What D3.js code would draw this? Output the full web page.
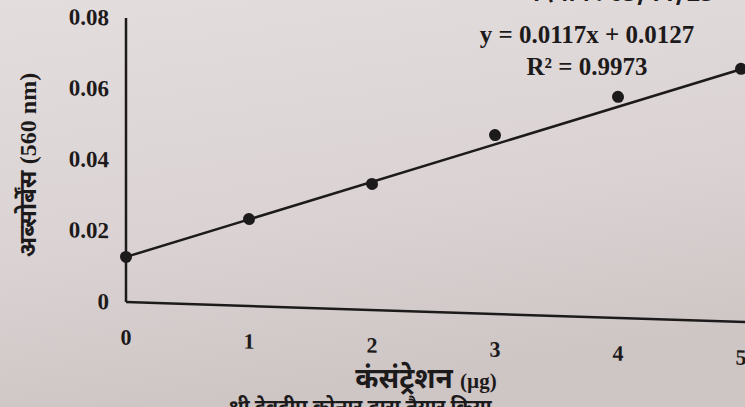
<!DOCTYPE html>
<html>
<head>
<meta charset="utf-8">
<script src="https://cdn.jsdelivr.net/npm/d3@7"></script>
<style>
  html, body { margin: 0; padding: 0; overflow: hidden; }
  body { width: 745px; height: 407px; }
  text { fill: #1d1a1b; }
  .num { font-family: "Liberation Serif", "Times New Roman", serif; font-weight: bold; }
  .hi { font-family: "Noto Sans Devanagari", "Lohit Devanagari", "Noto Serif Devanagari", sans-serif; font-weight: bold; }
</style>
</head>
<body>
<div id="chart"></div>
<script>
// standard curve readings
const concentration = [0, 1, 2, 3, 4, 5];
const absorbance = [0.0127, 0.0245, 0.0355, 0.0504, 0.0623, 0.0713];
const yTicks = [0, 0.02, 0.04, 0.06, 0.08];
const xTicks = [0, 1, 2, 3, 4, 5];
const fitSlope = 0.0117;
const fitIntercept = 0.0127;
const fitR2 = 0.9973;

const W = 745, H = 407;
const axisX = 126, baseY = 302, topY = 18;

let svg = d3.select('#chart').append('svg')
    .attr('width', W)
    .attr('height', H);

// paper background
let grad = svg.append('defs').append('linearGradient')
    .attr('id', 'paper')
    .attr('x1', 0).attr('y1', 0).attr('x2', 0.25).attr('y2', 1);
grad.append('stop').attr('offset', '0%').attr('stop-color', '#e3dddd');
grad.append('stop').attr('offset', '60%').attr('stop-color', '#dbd3d3');
grad.append('stop').attr('offset', '100%').attr('stop-color', '#cec5c5');
svg.append('rect').attr('width', W).attr('height', H).attr('fill', 'url(#paper)');

// photo is slightly tilted: skew the plot
let g = svg.append('g')
    .attr('transform', 'translate(' + axisX + ',0) skewY(1.86)');

let x = d3.scaleLinear().domain([0, 5]).range([0, 615]);
let y = d3.scaleLinear().domain([0, 0.08]).range([baseY, topY]);

// axes lines
g.append('line')
    .attr('x1', 0).attr('x2', 0)
    .attr('y1', y(0.08)).attr('y2', y(0))
    .attr('stroke', '#1d1a1b').attr('stroke-width', 2.5);
g.append('line')
    .attr('x1', 0).attr('x2', x(5.05))
    .attr('y1', y(0)).attr('y2', y(0))
    .attr('stroke', '#1d1a1b').attr('stroke-width', 2.5);

// tick labels
g.append('g')
    .selectAll('text')
    .data(yTicks)
    .enter()
    .append('text')
    .attr('class', 'num')
    .attr('x', -17)
    .attr('y', d => y(d))
    .attr('dy', '0.35em')
    .attr('text-anchor', 'end')
    .attr('font-size', 23)
    .text(d => d === 0 ? '0' : d3.format('.2f')(d));

g.append('g')
    .selectAll('text')
    .data(xTicks)
    .enter()
    .append('text')
    .attr('class', 'num')
    .attr('x', d => x(d))
    .attr('y', baseY + 35)
    .attr('dy', '0.35em')
    .attr('text-anchor', 'middle')
    .attr('font-size', 22)
    .text(d => d);

// trend line
g.append('line')
    .attr('x1', x(0)).attr('x2', x(5))
    .attr('y1', y(fitIntercept)).attr('y2', y(fitIntercept + fitSlope * 5))
    .attr('stroke', '#1d1a1b').attr('stroke-width', 2.5);

// points
g.append('g')
    .selectAll('circle')
    .data(concentration)
    .enter()
    .append('circle')
    .attr('cx', d => x(d))
    .attr('cy', (d, i) => y(absorbance[i]))
    .attr('r', 6)
    .attr('fill', '#1d1a1b');

// equation
let eq = svg.append('text')
    .attr('class', 'num')
    .attr('text-anchor', 'middle')
    .attr('font-size', 25);
eq.append('tspan').attr('x', 587).attr('y', 43)
    .text('y = ' + fitSlope + 'x + ' + fitIntercept);
eq.append('tspan').attr('x', 587).attr('y', 75)
    .text('R² = ' + fitR2);

// axis titles
let yl = svg.append('text')
    .attr('transform', 'translate(36,165) rotate(-90)')
    .attr('text-anchor', 'middle')
    .attr('font-size', 24);
yl.append('tspan').attr('class', 'hi').text('अब्सोर्बेंस ');
yl.append('tspan').attr('class', 'num').text('(560 nm)');

let xl = svg.append('text')
    .attr('x', 426).attr('y', 388)
    .attr('text-anchor', 'middle');
xl.append('tspan').attr('class', 'hi').attr('font-size', 28).text('कंसंट्रेशन ');
xl.append('tspan').attr('class', 'num').attr('font-size', 21).text('(µg)');

// printed text cut off at the top and bottom of the photo
svg.append('text')
    .attr('class', 'hi')
    .attr('x', 714).attr('y', 1)
    .attr('text-anchor', 'end')
    .attr('font-size', 24)
    .text('दिनांक: 03/11/23');
svg.append('text')
    .attr('class', 'hi')
    .attr('x', 228).attr('y', 414)
    .attr('font-size', 20)
    .attr('font-weight', 'normal')
    .text('श्री देवदीप कोनार द्वारा तैयार किया');
</script>
</body>
</html>
